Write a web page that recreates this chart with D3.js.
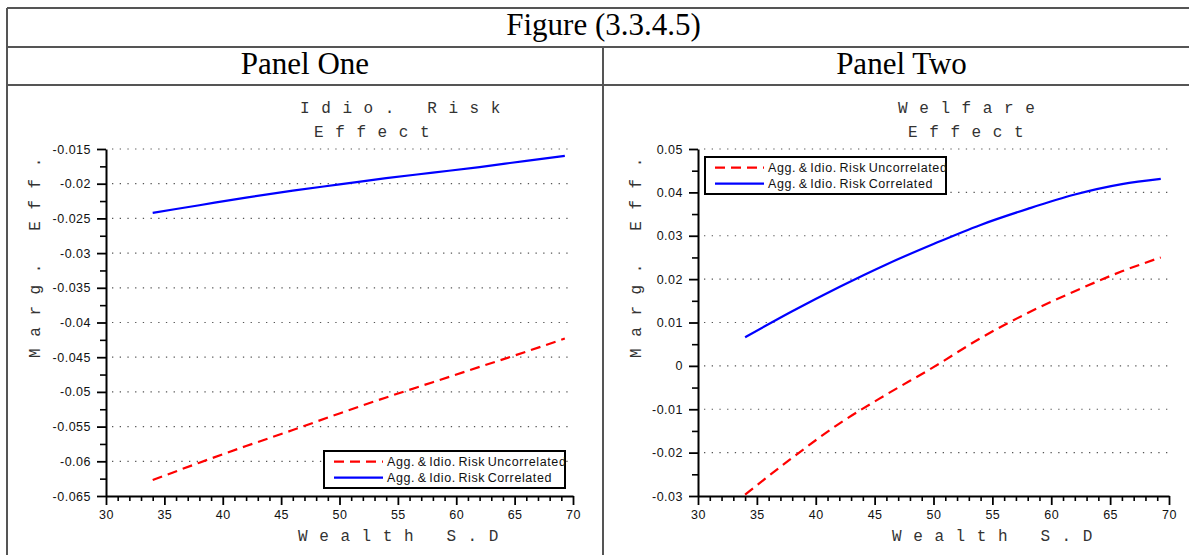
<!DOCTYPE html>
<html>
<head>
<meta charset="utf-8">
<script src="https://cdn.jsdelivr.net/npm/d3@7"></script>
<style>
  html, body { margin: 0; padding: 0; background: #fff; }
  svg { display: block; }
</style>
</head>
<body>
<svg id="fig" width="1189" height="555"></svg>
<script>
// Wealth standard deviation (x) and the two risk cases for each panel
const wealthSD = [34, 38, 42, 46, 50, 54, 58, 62, 66, 69.3];

// Panel One: idiosyncratic risk effect on marginal efficiency
const p1Uncorrelated = [-0.0627, -0.0602, -0.0578, -0.0555, -0.0531, -0.0508, -0.0486, -0.0464, -0.0442, -0.0423];
const p1Correlated   = [-0.0242, -0.0231, -0.0220, -0.0210, -0.0201, -0.0192, -0.0184, -0.0176, -0.0167, -0.0160];

// Panel Two: welfare effect on marginal efficiency
const p2Uncorrelated = [-0.0297, -0.0212, -0.0133, -0.0066, -0.0003, 0.0064, 0.0122, 0.0172, 0.0218, 0.0250];
const p2Correlated   = [0.0066, 0.0126, 0.0182, 0.0234, 0.0281, 0.0325, 0.0362, 0.0395, 0.0419, 0.0431];

const xTicks   = [30, 35, 40, 45, 50, 55, 60, 65, 70];
const p1YTicks = [-0.065, -0.06, -0.055, -0.05, -0.045, -0.04, -0.035, -0.03, -0.025, -0.02, -0.015];
const p2YTicks = [-0.03, -0.02, -0.01, 0, 0.01, 0.02, 0.03, 0.04, 0.05];

const seriesNames = ["Agg. & Idio. Risk Uncorrelated", "Agg. & Idio. Risk Correlated"];
const figureTitle = "Figure (3.3.4.5)";
const panelNames  = ["Panel One", "Panel Two"];
const p1Title = ["Idio. Risk", "Effect"];
const p2Title = ["Welfare", "Effect"];
const xLabel = "Wealth S.D";
const yLabel = "Marg. Eff.";

const svg = d3.select("#fig");
const SANS = "'Liberation Sans', Arial, sans-serif";
const MONO = "'Liberation Mono', 'DejaVu Sans Mono', monospace";
const SERIF = "'Liberation Serif', 'Times New Roman', serif";

// ---- table frame ----
const frame = svg.append("g").attr("stroke", "#555").attr("stroke-width", 2).attr("fill", "none");
const L = 7, R = 1200, MID = 603;
frame.append("line").attr("x1", L).attr("x2", R).attr("y1", 8).attr("y2", 8);
frame.append("line").attr("x1", L).attr("x2", R).attr("y1", 47).attr("y2", 47);
frame.append("line").attr("x1", L).attr("x2", R).attr("y1", 85).attr("y2", 85);
frame.append("line").attr("x1", L).attr("x2", L).attr("y1", 8).attr("y2", 560);
frame.append("line").attr("x1", MID).attr("x2", MID).attr("y1", 47).attr("y2", 560);

svg.append("text").attr("x", (L + R) / 2).attr("y", 35).attr("text-anchor", "middle")
  .attr("font-family", SERIF).attr("font-size", 31).attr("fill", "#000").text(figureTitle);
svg.append("text").attr("x", (L + MID) / 2).attr("y", 74).attr("text-anchor", "middle")
  .attr("font-family", SERIF).attr("font-size", 31).attr("fill", "#000").text(panelNames[0]);
svg.append("text").attr("x", (MID + R) / 2).attr("y", 74).attr("text-anchor", "middle")
  .attr("font-family", SERIF).attr("font-size", 31).attr("fill", "#000").text(panelNames[1]);

// ---- one plot panel ----
function drawPanel(cfg) {
  const g = svg.append("g");
  const x = d3.scaleLinear().domain([30, 70]).range([cfg.left, cfg.right]);
  const y = d3.scaleLinear().domain(cfg.yDomain).range([496, 149]);
  const fmt = d => String(+d.toFixed(4));

  // dotted horizontal grid
  g.append("g").selectAll("line")
    .data(cfg.yTicks.filter(v => v !== cfg.yDomain[0]))
    .join("line")
    .attr("x1", cfg.left + 6).attr("x2", cfg.right)
    .attr("y1", d => y(d)).attr("y2", d => y(d))
    .attr("stroke", "#555").attr("stroke-width", 1.2)
    .attr("stroke-dasharray", "1.3,6.4");

  // minor ticks
  const yStep = cfg.yTicks[1] - cfg.yTicks[0];
  const yMinor = cfg.yTicks.slice(0, -1).map(v => v + yStep / 2);
  const xMinor = d3.range(30, 71, 1).filter(v => v % 5 !== 0);

  const yMinAxis = g.append("g").attr("transform", `translate(${cfg.left},0)`)
    .call(d3.axisLeft(y).tickValues(yMinor).tickSize(6).tickSizeOuter(0).tickFormat(""));
  const xMinAxis = g.append("g").attr("transform", `translate(0,496)`)
    .call(d3.axisBottom(x).tickValues(xMinor).tickSize(5).tickSizeOuter(0).tickFormat(""));
  [yMinAxis, xMinAxis].forEach(a => {
    a.select(".domain").remove();
    a.selectAll(".tick line").attr("stroke", "#000").attr("stroke-width", 1.6);
  });

  // major axes
  const yAxis = g.append("g").attr("transform", `translate(${cfg.left},0)`)
    .call(d3.axisLeft(y).tickValues(cfg.yTicks).tickSize(9).tickSizeOuter(0).tickPadding(6).tickFormat(fmt));
  const xAxis = g.append("g").attr("transform", `translate(0,496)`)
    .call(d3.axisBottom(x).tickValues(xTicks).tickSize(9).tickSizeOuter(0).tickPadding(5).tickFormat(fmt));
  [yAxis, xAxis].forEach(a => {
    a.select(".domain").attr("stroke", "#000").attr("stroke-width", 2);
    a.selectAll(".tick line").attr("stroke", "#000").attr("stroke-width", 1.8);
    a.selectAll(".tick text").attr("font-family", SANS).attr("font-size", 12.5)
      .attr("letter-spacing", 0.5).attr("fill", "#111");
  });

  // series
  const line = (vals) => d3.line()
    .x((d, i) => x(wealthSD[i])).y(d => y(d)).curve(d3.curveMonotoneX)(vals);
  g.append("path").attr("d", line(cfg.uncorrelated)).attr("fill", "none")
    .attr("stroke", "#ff0000").attr("stroke-width", 2.2).attr("stroke-dasharray", "10,6");
  g.append("path").attr("d", line(cfg.correlated)).attr("fill", "none")
    .attr("stroke", "#0000ff").attr("stroke-width", 2.2);

  // titles (spaced monospace)
  const mono = (sel) => sel.attr("font-family", MONO).attr("font-size", 16)
    .attr("letter-spacing", 11.6).attr("fill", "#333");
  mono(g.append("text").attr("x", cfg.t1x).attr("y", 112.5).text(cfg.title[0]));
  mono(g.append("text").attr("x", cfg.t2x).attr("y", 136.5).text(cfg.title[1]));
  mono(g.append("text").attr("x", cfg.xlx).attr("y", 541).text(xLabel));
  mono(g.append("text").attr("transform", `translate(${cfg.ylx},358) rotate(-90)`).text(yLabel));

  // legend
  const lg = g.append("g").attr("transform", `translate(${cfg.legX},${cfg.legY})`);
  lg.append("rect").attr("width", 241).attr("height", 37).attr("fill", "#fff")
    .attr("stroke", "#000").attr("stroke-width", 2);
  const rows = [
    { name: seriesNames[0], color: "#ff0000", dash: "10,6", dy: 10.7 },
    { name: seriesNames[1], color: "#0000ff", dash: null, dy: 26.7 }
  ];
  rows.forEach(r => {
    lg.append("line").attr("x1", 10).attr("x2", 59).attr("y1", r.dy).attr("y2", r.dy)
      .attr("stroke", r.color).attr("stroke-width", 2.2)
      .attr("stroke-dasharray", r.dash);
    lg.append("text").attr("x", 63).attr("y", r.dy).attr("dy", "0.35em")
      .attr("font-family", SANS).attr("font-size", 12.5).attr("letter-spacing", 0.6)
      .attr("word-spacing", -1.5).attr("fill", "#111").text(r.name);
  });
}

drawPanel({
  left: 106, right: 573, yDomain: [-0.065, -0.015], yTicks: p1YTicks,
  uncorrelated: p1Uncorrelated, correlated: p1Correlated,
  title: p1Title, t1x: 300, t2x: 314, xlx: 298, ylx: 40,
  legX: 324, legY: 451
});
drawPanel({
  left: 698, right: 1169, yDomain: [-0.03, 0.05], yTicks: p2YTicks,
  uncorrelated: p2Uncorrelated, correlated: p2Correlated,
  title: p2Title, t1x: 898, t2x: 908, xlx: 892, ylx: 640.5,
  legX: 705, legY: 157
});
</script>
</body>
</html>
